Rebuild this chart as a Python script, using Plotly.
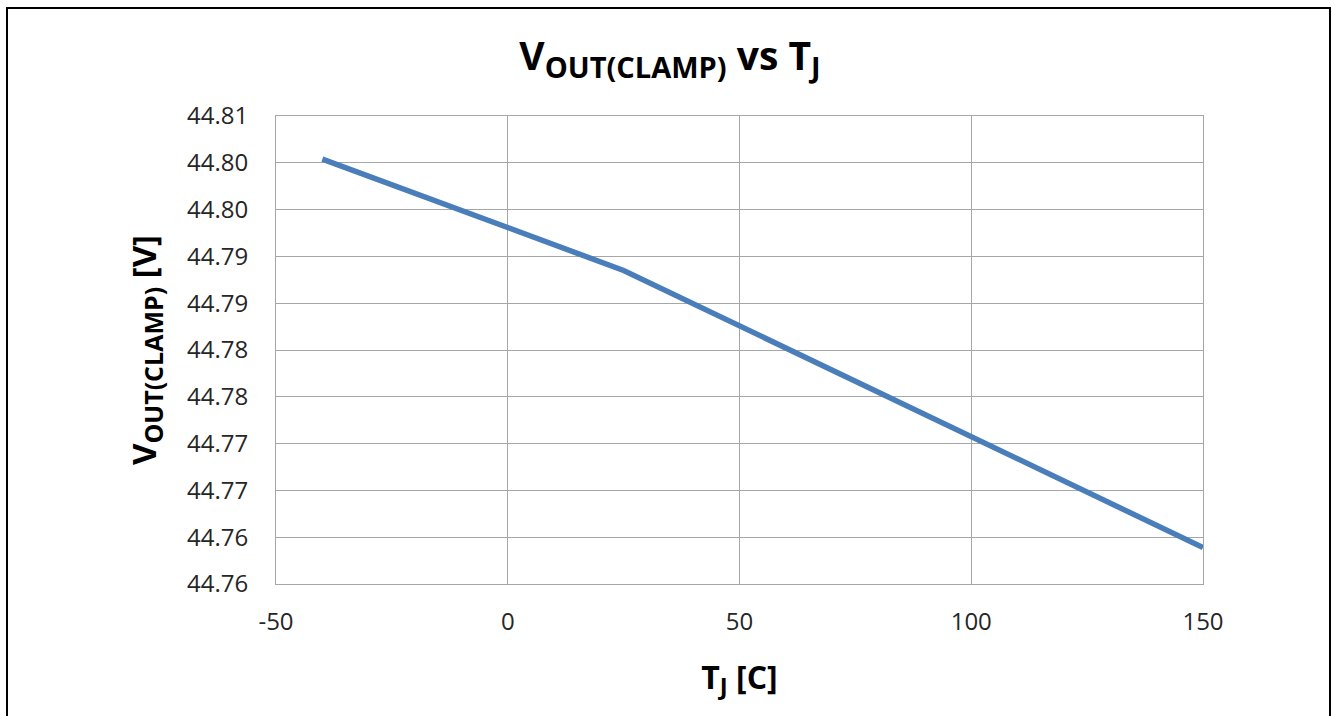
import plotly.graph_objects as go

# Data
temps_c = [-40, 25, 150]
vout_clamp_v = [44.8004, 44.7885, 44.7589]

y_tick_values = [44.755, 44.760, 44.765, 44.770, 44.775, 44.780, 44.785, 44.790, 44.795, 44.800, 44.805]
y_tick_labels = ["44.76", "44.76", "44.77", "44.77", "44.78", "44.78", "44.79", "44.79", "44.80", "44.80", "44.81"]
x_tick_values = [-50, 0, 50, 100, 150]
x_tick_labels = ["-50", "0", "50", "100", "150"]

W, H = 1332, 716
L, R, T, B = 276, 129, 116, 132
pw, ph = W - L - R, H - T - B

def px_to_paper_x(px):
    return (px - L) / pw

def py_to_paper_y(py):
    return (H - B - py) / ph

FONT = "Open Sans"
GRID = "#A6A6A6"

def sub(txt, size):
    return f"<sub><span style='font-size:{size}px'>{txt}</span></sub>"

fig = go.Figure()
fig.add_trace(go.Scatter(
    x=temps_c, y=vout_clamp_v, mode="lines",
    line=dict(color="#4A7EBB", width=5.5),
    showlegend=False, hoverinfo="x+y",
))

fig.update_layout(
    width=W, height=H,
    margin=dict(l=L, r=R, t=T, b=B, pad=0),
    paper_bgcolor="white", plot_bgcolor="white",
    title=dict(
        text="<b>V" + sub("OUT(CLAMP)", 29) + " vs T" + sub("J", 29) + "</b>",
        x=0.503, xanchor="center", y=1 - 56 / H, yanchor="middle",
        font=dict(family=FONT, size=39, color="black"),
    ),
    xaxis=dict(
        range=[-50, 150], tickmode="array", tickvals=x_tick_values, ticktext=x_tick_labels,
        showgrid=True, gridcolor=GRID, gridwidth=1,
        showline=True, linecolor=GRID, linewidth=1, mirror=True,
        zeroline=False, ticks="", ticklabelstandoff=16,
        tickfont=dict(family=FONT, size=24, color="#262626"),
        title=dict(text="<b>T" + sub("J", 24) + " [C]</b>", standoff=30,
                   font=dict(family=FONT, size=32, color="black")),
    ),
    yaxis=dict(
        range=[44.755, 44.805], tickmode="array", tickvals=y_tick_values, ticktext=y_tick_labels,
        showgrid=True, gridcolor=GRID, gridwidth=1,
        showline=True, linecolor=GRID, linewidth=1, mirror=True,
        zeroline=False, ticks="", ticklabelstandoff=22,
        tickfont=dict(family=FONT, size=24, color="#262626"),
        title=dict(text="<b>V" + sub("OUT(CLAMP)", 25) + " [V]</b>", standoff=20,
                   font=dict(family=FONT, size=33, color="black")),
    ),
    shapes=[dict(
        type="rect", xref="paper", yref="paper",
        x0=px_to_paper_x(7), x1=px_to_paper_x(1330),
        y0=py_to_paper_y(730), y1=py_to_paper_y(8),
        line=dict(color="black", width=2), fillcolor="rgba(0,0,0,0)", layer="above",
    )],
)

fig.write_html("out.html", config={"displayModeBar": False},
               post_script="document.body.style.margin='0';")
